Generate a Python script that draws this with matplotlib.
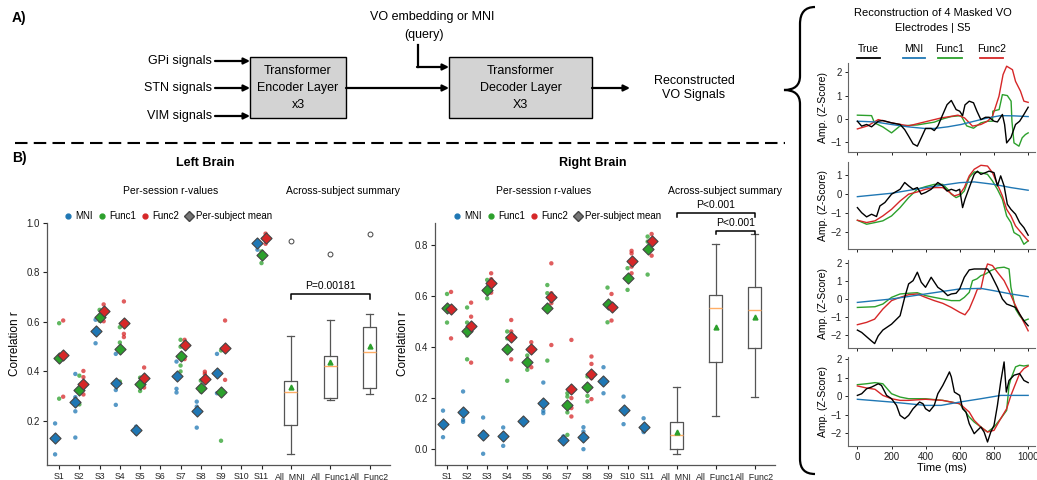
import matplotlib.pyplot as plt
import numpy as np
from matplotlib.lines import Line2D
from matplotlib.patches import Rectangle, PathPatch
from matplotlib.path import Path

plt.rcParams['font.family'] = ['Liberation Sans', 'DejaVu Sans']

BLUE, GREEN, RED = '#1f77b4', '#2ca02c', '#d62728'

sessions = ['S1', 'S2', 'S3', 'S4', 'S5', 'S6', 'S7', 'S8', 'S9', 'S10', 'S11']
summary_labels = ['All_MNI', 'All_Func1', 'All_Func2']

# ---- left brain: per-session r values (empty = no session)
left_mni_pts = [[0.19, 0.065], [0.39, 0.296, 0.239, 0.133], [0.609, 0.552, 0.514],
                [0.471, 0.325, 0.265], [0.177, 0.164, 0.15], [], [0.44, 0.33, 0.315],
                [0.278, 0.258, 0.247, 0.173], [0.471, 0.312], [], [0.926, 0.892]]
left_func1_pts = [[0.595, 0.29], [0.383, 0.328, 0.267], [0.649, 0.622, 0.605],
                  [0.579, 0.517, 0.359], [0.375, 0.321], [], [0.528, 0.50, 0.424, 0.40],
                  [0.363, 0.319], [0.485, 0.312, 0.12], [], [0.885, 0.838]]
left_func2_pts = [[0.606, 0.298], [0.402, 0.377, 0.307], [0.671, 0.603, 0.643],
                  [0.683, 0.552, 0.539], [0.416, 0.335], [], [0.528, 0.517, 0.45],
                  [0.399, 0.39, 0.366], [0.606, 0.494, 0.366], [], [0.957, 0.916]]
left_mni_mean = [0.13, 0.276, 0.562, 0.355, 0.163, np.nan, 0.383, 0.239, 0.393, np.nan, 0.919]
left_func1_mean = [0.454, 0.325, 0.62, 0.49, 0.348, np.nan, 0.464, 0.335, 0.315, np.nan, 0.872]
left_func2_mean = [0.467, 0.35, 0.643, 0.595, 0.373, np.nan, 0.508, 0.37, 0.494, np.nan, 0.939]

left_box_lo = [0.065, 0.285, 0.309]
left_box_q1 = [0.184, 0.292, 0.332]
left_box_med = [0.316, 0.424, 0.478]
left_box_q3 = [0.363, 0.463, 0.579]
left_box_hi = [0.544, 0.606, 0.632]
left_box_mean = [0.339, 0.44, 0.501]
left_box_fliers = [[0.926], [0.876], [0.957]]

# ---- right brain
right_mni_pts = [[0.151, 0.047], [0.226, 0.115, 0.107], [0.124, 0.065, -0.018], [0.085, 0.013],
                 [0.115, 0.102], [0.261, 0.151, 0.141], [0.05, 0.034], [0.086, 0.069, 0.0],
                 [0.321, 0.219], [0.206, 0.098], [0.121, 0.073, 0.067]]
right_func1_pts = [[0.608, 0.496], [0.555, 0.496, 0.445, 0.352], [0.663, 0.591],
                   [0.461, 0.434, 0.268], [0.367, 0.311], [0.643, 0.611, 0.347],
                   [0.219, 0.206, 0.144, 0.056], [0.285, 0.209, 0.187], [0.633, 0.497],
                   [0.709, 0.624], [0.833, 0.813, 0.684]]
right_func2_pts = [[0.616, 0.434], [0.574, 0.519, 0.339], [0.689, 0.666, 0.637, 0.613],
                   [0.506, 0.461, 0.352], [0.419, 0.321], [0.728, 0.611, 0.572, 0.408],
                   [0.428, 0.2, 0.161, 0.128], [0.363, 0.334, 0.278, 0.196], [0.608, 0.504],
                   [0.777, 0.767, 0.715, 0.689], [0.843, 0.813, 0.758]]
right_mni_mean = [0.098, 0.145, 0.054, 0.052, 0.111, 0.18, 0.034, 0.047, 0.269, 0.154, 0.086]
right_func1_mean = [0.552, 0.463, 0.624, 0.392, 0.341, 0.552, 0.174, 0.243, 0.568, 0.67, 0.784]
right_func2_mean = [0.548, 0.484, 0.65, 0.441, 0.392, 0.598, 0.235, 0.294, 0.556, 0.739, 0.817]

right_box_lo = [-0.02, 0.13, 0.204]
right_box_q1 = [0.001, 0.343, 0.395]
right_box_med = [0.054, 0.552, 0.545]
right_box_q3 = [0.106, 0.603, 0.637]
right_box_hi = [0.245, 0.804, 0.843]
right_box_mean = [0.067, 0.48, 0.519]
right_box_fliers = [[], [], []]

# ---- reconstruction traces (time ms, z-score), S5
sig1_true = [(0, -0.1), (25, -0.31), (54, -0.24), (83, -0.34), (122, -0.1), (149, -0.07), (200, -0.17),
             (250, -0.24), (277, -0.46), (300, -0.74), (326, -1.07), (351, -1.17), (374, -0.81),
             (399, -0.41), (432, -0.41), (450, -0.5), (471, -0.31), (500, 0.19), (525, 0.61),
             (550, 0.79), (578, 0.4), (599, 0.33), (616, 0.14), (630, 0.6), (655, 0.76), (680, 0.69),
             (700, 0.33), (723, -0.03), (750, 0.07), (771, 0.07), (800, -0.1), (820, -0.13),
             (849, 0.19), (862, -0.24), (874, -1.03), (899, -0.8), (926, -0.24), (950, -0.1),
             (975, 0.19), (1000, 0.5)]
sig1_mni = [(0, -0.1), (103, -0.13), (200, -0.24), (296, -0.34), (393, -0.41), (451, -0.41),
            (529, -0.34), (607, -0.24), (684, -0.1), (762, 0.04), (839, 0.14), (917, 0.13), (1000, 0.1)]
sig1_func1 = [(0, 0.16), (83, 0.14), (100, -0.17), (150, -0.35), (200, -0.6), (250, -0.3), (350, -0.26),
              (450, -0.14), (500, 0.0), (550, 0.1), (607, 0.14), (640, -0.3), (680, -0.4), (723, -0.17),
              (762, -0.1), (791, -0.1), (793, 0.33), (830, 0.4), (849, 1.04), (878, 1.0), (900, 0.76),
              (905, -0.1), (917, -1.03), (946, -1.17), (965, -0.81), (984, -0.67), (1000, -0.6)]
sig1_func2 = [(0, -0.43), (60, -0.3), (122, -0.03), (200, -0.17), (300, -0.3), (411, -0.1), (490, 0.04),
              (550, 0.11), (589, 0.16), (628, 0.04), (674, -0.31), (723, -0.24), (762, -0.1), (791, 0.11),
              (810, 0.54), (829, 0.97), (853, 1.9), (874, 2.26), (908, 2.11), (926, 1.61), (955, 1.19),
              (975, 0.76), (1000, 0.71)]

sig2_true = [(0, -0.73), (25, -1.0), (54, -1.22), (83, -1.08), (112, -1.2), (132, -0.64), (161, -0.46),
             (200, -0.02), (250, 0.24), (277, 0.6), (300, 0.42), (326, 0.24), (351, 0.33), (374, -0.02),
             (399, 0.07), (432, 0.24), (471, 0.6), (500, 0.42), (525, 0.15), (550, 0.24), (578, 0.15),
             (599, 0.24), (616, -0.73), (630, -0.29), (655, 0.33), (684, 1.03), (703, 1.2), (723, 1.03),
             (750, 1.12), (771, 1.2), (800, 1.12), (820, 0.42), (839, 0.95), (859, 0.42), (878, -0.55),
             (899, -0.82), (926, -1.08), (950, -1.52), (975, -1.79), (1000, -2.19)]
sig2_mni = [(0, -0.15), (200, 0.03), (399, 0.33), (599, 0.59), (684, 0.63), (800, 0.5), (899, 0.33),
            (1000, 0.19)]
sig2_func1 = [(0, -1.4), (54, -1.61), (103, -1.52), (149, -1.43), (200, -1.17), (250, -0.73), (300, -0.2),
              (351, 0.24), (399, 0.38), (450, 0.5), (500, 0.5), (529, 0.24), (550, -0.02), (578, -0.2),
              (599, -0.11), (626, 0.15), (655, 0.86), (684, 1.16), (723, 1.12), (762, 1.03), (791, 0.68),
              (820, 0.24), (849, -0.29), (874, -1.17), (899, -1.52), (917, -2.05), (950, -2.23),
              (975, -2.67), (1000, -2.49)]
sig2_func2 = [(0, -1.4), (54, -1.52), (103, -1.43), (149, -1.17), (200, -0.82), (250, -0.38), (300, -0.02),
              (351, 0.1), (399, 0.24), (450, 0.33), (500, 0.33), (529, 0.15), (568, -0.11), (599, -0.02),
              (626, 0.33), (655, 0.95), (684, 1.3), (723, 1.51), (762, 1.47), (791, 1.12), (820, 0.5),
              (849, -0.11), (874, -0.82), (899, -1.17), (926, -1.7), (950, -1.96), (975, -2.23), (1000, -2.49)]

sig3_true = [(0, -1.72), (25, -1.85), (54, -2.09), (83, -2.33), (101, -2.47), (122, -2.04), (149, -1.72),
             (200, -1.39), (250, -0.92), (277, 0.1), (300, 0.85), (326, 1.03), (351, 1.5), (374, 0.94),
             (399, 0.66), (432, 1.22), (471, 0.66), (500, 0.47), (529, 0.2), (550, 0.29), (578, 0.33),
             (599, 0.57), (626, 1.22), (655, 1.63), (684, 1.68), (723, 1.68), (762, 1.68), (781, 1.4),
             (820, 0.66), (849, 0.01), (874, -0.27), (899, -0.36), (926, -0.46), (950, -0.83),
             (975, -1.2), (1000, -1.48)]
sig3_mni = [(0, -0.18), (200, 0.01), (399, 0.29), (599, 0.57), (723, 0.6), (800, 0.47), (899, 0.29),
            (1000, 0.14)]
sig3_func1 = [(0, -0.46), (103, -0.42), (149, -0.27), (200, 0.1), (250, 0.29), (300, 0.33), (351, 0.36),
              (399, 0.2), (450, 0.1), (500, 0.01), (550, -0.08), (599, -0.08), (626, 0.1), (655, 0.38),
              (674, 1.03), (700, 1.13), (723, 1.31), (750, 1.4), (781, 1.59), (820, 1.74), (859, 1.78),
              (888, 1.68), (899, 0.66), (926, -0.55), (950, -0.92), (975, -1.2), (1000, -1.11)]
sig3_func2 = [(0, -1.42), (54, -1.29), (101, -1.11), (149, -0.55), (200, -0.08), (250, 0.1), (300, 0.25),
              (351, 0.29), (399, 0.1), (450, -0.08), (500, -0.23), (550, -0.46), (599, -0.73), (630, -0.87),
              (655, -0.55), (684, 0.1), (703, 0.57), (723, 0.57), (742, 1.4), (762, 1.96), (791, 1.87),
              (820, 1.5), (859, 1.03), (888, 0.47), (917, -0.18), (950, -0.83), (975, -1.29), (1000, -1.76)]

sig4_true = [(0, 0.05), (25, 0.14), (54, 0.41), (83, 0.5), (122, 0.68), (141, 0.59), (171, 0.05),
             (200, -0.13), (229, -0.49), (250, -1.03), (277, -1.21), (300, -1.03), (326, -0.67),
             (364, -0.31), (384, -0.4), (399, -0.67), (422, -0.81), (450, -0.49), (471, 0.14), (500, 0.59),
             (525, 1.05), (539, 1.32), (550, 1.05), (568, 0.23), (599, 0.05), (616, -0.67), (636, -0.85),
             (655, -1.48), (684, -2.02), (703, -1.84), (723, -1.66), (742, -1.93), (762, -2.47),
             (781, -1.93), (800, -1.57), (820, -0.49), (839, 0.77), (859, 1.86), (872, 0.23), (888, 0.86),
             (917, 1.14), (950, 1.23), (975, 0.86), (1000, 0.74)]
sig4_mni = [(0, -0.16), (200, -0.31), (399, -0.49), (490, -0.49), (599, -0.31), (723, -0.13), (839, 0.05),
            (1000, 0.05)]
sig4_func1 = [(0, 0.63), (54, 0.68), (103, 0.74), (149, 0.68), (200, 0.14), (250, -0.04), (300, -0.13),
              (399, -0.13), (500, -0.22), (599, -0.4), (655, -1.12), (684, -1.39), (723, -1.66), (762, -1.93),
              (800, -1.66), (839, -1.21), (874, -0.76), (888, 0.59), (899, 0.95), (926, 1.59), (950, 1.68),
              (975, 1.64), (1000, 1.68)]
sig4_func2 = [(0, 0.56), (54, 0.45), (103, 0.38), (149, 0.05), (200, -0.13), (250, -0.22), (300, -0.22),
              (399, -0.16), (500, -0.22), (599, -0.4), (655, -0.85), (684, -1.3), (723, -1.66), (762, -1.93),
              (800, -1.84), (839, -1.21), (874, -0.67), (899, 0.05), (926, 0.68), (950, 1.23), (975, 1.5),
              (1000, 1.64)]

fig = plt.figure(figsize=(10.37, 4.8), dpi=100)

# overlay in pixel coordinates for the diagram and free text
ov = fig.add_axes([0, 0, 1, 1])
ov.set_xlim(0, 1037)
ov.set_ylim(480, 0)
ov.axis('off')


def arrow(x0, y0, x1, y1):
    ov.annotate('', xy=(x1, y1), xytext=(x0, y0),
                arrowprops=dict(arrowstyle='-|>', lw=1.6, color='k', mutation_scale=9,
                                shrinkA=0, shrinkB=0))


# ---- panel A
ov.text(12, 18, 'A)', fontsize=10, fontweight='bold', va='center')
ov.text(432, 17, 'VO embedding or MNI', fontsize=9, ha='center', va='center')
ov.text(424, 35, '(query)', fontsize=9, ha='center', va='center')
for lab, y in zip(['GPi signals', 'STN signals', 'VIM signals'], [61, 88, 116]):
    ov.text(212, y, lab, fontsize=9, ha='right', va='center')
    arrow(215, y, 250, y)
for x0, x1, lab in [(250, 346, 'Transformer\nEncoder Layer\nx3'), (449, 592, 'Transformer\nDecoder Layer\nX3')]:
    ov.add_patch(Rectangle((x0, 57), x1 - x0, 61, facecolor='#d3d3d3', edgecolor='k', lw=1))
    ov.text((x0 + x1) / 2, 88, lab, fontsize=9, ha='center', va='center', linespacing=1.5)
arrow(346, 88, 449, 88)
ov.plot([418, 418], [45, 67], color='k', lw=1.6)
arrow(417, 67, 449, 67)
arrow(592, 88, 630, 88)
ov.text(694, 88, 'Reconstructed\nVO Signals', fontsize=9, ha='center', va='center', linespacing=1.3)
ov.plot([15, 785], [143, 143], color='k', lw=1.5, dashes=(6, 3))

# brace
verts = [(815, 7), (800, 7), (800, 24), (800, 76), (800, 90), (784, 90), (800, 90), (800, 104),
         (800, 459), (800, 474), (815, 474)]
codes = [Path.MOVETO, Path.CURVE3, Path.CURVE3, Path.LINETO, Path.CURVE3, Path.CURVE3,
         Path.CURVE3, Path.CURVE3, Path.LINETO, Path.CURVE3, Path.CURVE3]
ov.add_patch(PathPatch(Path(verts, codes), facecolor='none', edgecolor='k', lw=1.6))

# ---- panel B headers
ov.text(12, 158, 'B)', fontsize=10, fontweight='bold', va='center')
ov.text(205, 163, 'Left Brain', fontsize=9, fontweight='bold', ha='center', va='center')
ov.text(593, 163, 'Right Brain', fontsize=9, fontweight='bold', ha='center', va='center')
for x, lab in [(171, 'Per-session r-values'), (343, 'Across-subject summary'),
               (544, 'Per-session r-values'), (725, 'Across-subject summary')]:
    ov.text(x, 191, lab, fontsize=7.5, ha='center', va='center')

sess_x = np.arange(len(sessions))
box_x = [11.45, 13.4, 15.35]
offsets = [-0.2, 0.0, 0.2]


def brain_panel(rect, pts, means, box, ylim, yticks, brackets, leg_xy):
    ax = fig.add_axes(rect)
    for p, m, c, dx in zip(pts, means, [BLUE, GREEN, RED], offsets):
        for i, vals in enumerate(p):
            ax.scatter(np.full(len(vals), sess_x[i] + dx), vals, s=10, color=c, alpha=0.75,
                       edgecolors='none', zorder=2)
        ax.scatter(sess_x + dx, m, marker='D', s=32, color=c, edgecolors='#444', linewidths=0.8,
                   zorder=3)
    lo, q1, med, q3, hi, mean, fl = box
    stats = [dict(whislo=lo[i], q1=q1[i], med=med[i], q3=q3[i], whishi=hi[i], mean=mean[i],
                  fliers=fl[i]) for i in range(3)]
    gp = dict(color='#555555', lw=0.9)
    ax.bxp(stats, positions=box_x, widths=0.65, showmeans=True, capwidths=0.35,
           boxprops=gp, whiskerprops=gp, capprops=gp,
           medianprops=dict(color='#ffae66', lw=1.0),
           meanprops=dict(marker='^', markerfacecolor=GREEN, markeredgecolor=GREEN, markersize=3.5),
           flierprops=dict(marker='o', markerfacecolor='none', markeredgecolor='#444',
                           markersize=3.5, markeredgewidth=0.7))
    for xa, xb, yb, drop, txt in brackets:
        ax.plot([xa, xa, xb, xb], [yb - drop, yb, yb, yb - drop], color='k', lw=1.1, clip_on=False)
        ax.text((xa + xb) / 2, yb + 0.012, txt, fontsize=7.5, ha='center', va='bottom')
    ax.set_xlim(-0.6, 16.35)
    ax.set_ylim(*ylim)
    ax.set_yticks(yticks)
    ax.set_xticks(list(sess_x) + box_x)
    ax.set_xticklabels(sessions + summary_labels)
    ax.tick_params(labelsize=7, length=3, width=0.8, colors='#222', pad=2)
    ax.tick_params(axis='x', labelsize=6.3)
    ax.set_ylabel('Correlation r', fontsize=8.5, labelpad=4)
    for s in ['top', 'right']:
        ax.spines[s].set_visible(False)
    for s in ['left', 'bottom']:
        ax.spines[s].set_color('#555')
        ax.spines[s].set_linewidth(0.9)
    handles = [Line2D([], [], marker='o', ls='', color=BLUE, ms=3.5),
               Line2D([], [], marker='o', ls='', color=GREEN, ms=3.5),
               Line2D([], [], marker='o', ls='', color=RED, ms=3.5),
               Line2D([], [], marker='D', ls='', color='#777', markeredgecolor='#444', ms=5)]
    ax.legend(handles, ['MNI', 'Func1', 'Func2', 'Per-subject mean'], loc='center',
              bbox_to_anchor=leg_xy, bbox_transform=ov.transData, ncol=4, fontsize=7,
              frameon=False, handletextpad=0.3, columnspacing=0.6, handlelength=0.8, borderpad=0)
    return ax


brain_panel([47 / 1037, 15 / 480, 343 / 1037, 242 / 480],
            [left_mni_pts, left_func1_pts, left_func2_pts],
            [left_mni_mean, left_func1_mean, left_func2_mean],
            [left_box_lo, left_box_q1, left_box_med, left_box_q3, left_box_hi, left_box_mean,
             left_box_fliers],
            (0.022, 1.0), [0.2, 0.4, 0.6, 0.8, 1.0],
            [(box_x[0], box_x[2], 0.714, 0.02, 'P=0.00181')], (168, 216))

brain_panel([435 / 1037, 15 / 480, 340 / 1037, 242 / 480],
            [right_mni_pts, right_func1_pts, right_func2_pts],
            [right_mni_mean, right_func1_mean, right_func2_mean],
            [right_box_lo, right_box_q1, right_box_med, right_box_q3, right_box_hi, right_box_mean,
             right_box_fliers],
            (-0.062, 0.886), [0.0, 0.2, 0.4, 0.6, 0.8],
            [(box_x[0], box_x[2], 0.924, 0.016, 'P<0.001'),
             (box_x[1], box_x[2], 0.856, 0.014, 'P<0.001')], (557, 216))

# ---- reconstruction traces
ov.text(933, 13, 'Reconstruction of 4 Masked VO', fontsize=8, ha='center', va='center')
ov.text(933, 28, 'Electrodes | S5', fontsize=8, ha='center', va='center')
for lab, c, x0, x1 in [('True', 'k', 857, 880), ('MNI', BLUE, 903, 925),
                       ('Func1', GREEN, 938, 962), ('Func2', RED, 980, 1003)]:
    ov.text((x0 + x1) / 2, 49, lab, fontsize=7.5, ha='center', va='center')
    ov.plot([x0, x1], [58, 58], color=c, lw=1.3)

sig_rects = [(62.7, 152.0), (161.7, 249.0), (260.0, 347.7), (357.3, 445.7)]
sig_ylims = [(-1.42, 2.41), (-2.92, 1.70), (-2.7, 2.18), (-2.67, 2.11)]
sig_yticks = [[-1, 0, 1, 2], [-2, -1, 0, 1], [-2, -1, 0, 1, 2], [-2, -1, 0, 1, 2]]
sig_data = [(sig1_true, sig1_mni, sig1_func1, sig1_func2),
            (sig2_true, sig2_mni, sig2_func1, sig2_func2),
            (sig3_true, sig3_mni, sig3_func1, sig3_func2),
            (sig4_true, sig4_mni, sig4_func1, sig4_func2)]

for k, ((top, bot), yl, yt, curves) in enumerate(zip(sig_rects, sig_ylims, sig_yticks, sig_data)):
    ax = fig.add_axes([848 / 1037, 1 - bot / 480, 187 / 1037, (bot - top) / 480])
    for cur, c in zip([curves[2], curves[3], curves[1], curves[0]], [GREEN, RED, BLUE, 'k']):
        a = np.array(cur)
        ax.plot(a[:, 0], a[:, 1], color=c, lw=1.0)
    ax.set_xlim(-55, 1040)
    ax.set_ylim(*yl)
    ax.set_yticks(yt)
    ax.set_xticks([0, 200, 400, 600, 800, 1000])
    if k < 3:
        ax.set_xticklabels([])
    else:
        ax.set_xlabel('Time (ms)', fontsize=8, labelpad=1)
    ax.tick_params(labelsize=7, length=2.5, width=0.7, colors='#222', pad=2)
    ax.set_ylabel('Amp. (Z-Score)', fontsize=7.5, labelpad=2)
    for s in ['top', 'right']:
        ax.spines[s].set_visible(False)
    for s in ['left', 'bottom']:
        ax.spines[s].set_color('#666')
        ax.spines[s].set_linewidth(0.8)

fig.savefig('out.png', dpi=100)
